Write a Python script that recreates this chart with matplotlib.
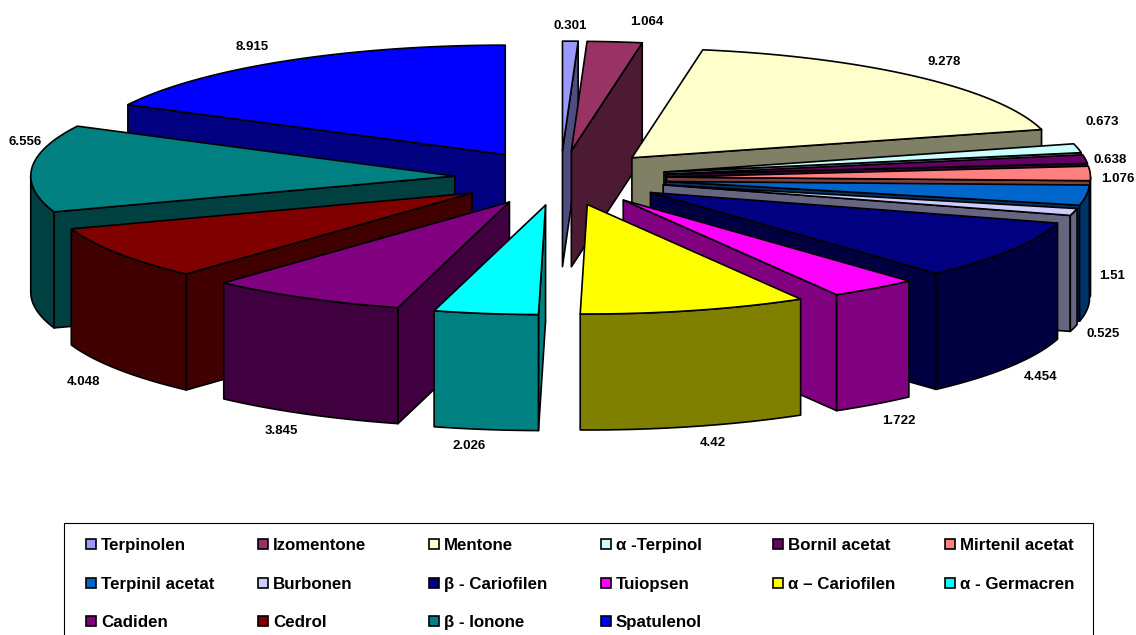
import numpy as np
import matplotlib as mpl
mpl.use('Agg')
import matplotlib.pyplot as plt
from matplotlib.colors import to_rgb
from matplotlib.patches import Polygon, Rectangle

plt.rcParams['font.family'] = ['Liberation Sans', 'DejaVu Sans']

names = ['Terpinolen', 'Izomentone', 'Mentone', 'α -Terpinol', 'Bornil acetat', 'Mirtenil acetat',
         'Terpinil acetat', 'Burbonen', 'β - Cariofilen', 'Tuiopsen', 'α – Cariofilen', 'α - Germacren',
         'Cadiden', 'Cedrol', 'β - Ionone', 'Spatulenol']
values = [0.301, 1.064, 9.278, 0.673, 0.638, 1.076, 1.51, 0.525,
          4.454, 1.722, 4.42, 2.026, 3.845, 4.048, 6.556, 8.915]
value_labels = ['0.301', '1.064', '9.278', '0.673', '0.638', '1.076', '1.51', '0.525',
                '4.454', '1.722', '4.42', '2.026', '3.845', '4.048', '6.556', '8.915']
colors = ['#9999FF', '#993366', '#FFFFCC', '#CCFFFF', '#660066', '#FF8080', '#0066CC', '#CCCCFF',
          '#000080', '#FF00FF', '#FFFF00', '#00FFFF', '#800080', '#800000', '#008080', '#0000FF']

# label anchors, pixels
label_xy = [(570, 26), (647, 22), (944, 62), (1102, 122), (1110, 160), (1118, 179), (1112, 276), (1103, 334),
            (1041, 377), (899, 421), (713, 443), (469, 446), (281, 431), (83, 382), (25, 142), (252, 47)]

# pie geometry, pixels
CX, CY = 560.5, 178
RX, RY = 424, 109.5
DEPTH = 116
EXPLODE = 0.25
LW = 1.2


def ring(theta):
    # point on the tilted ellipse, clockwise from 12 o'clock
    t = np.radians(theta)
    return np.column_stack([RX * np.sin(t), -RY * np.cos(t)])


def add_face(ax, pts, color):
    ax.add_patch(Polygon(pts, closed=True, facecolor=color, edgecolor='black', linewidth=LW, joinstyle='round'))


def draw_wedge(ax, start, end, color):
    mid = (start + end) / 2
    apex = np.array([CX, CY]) + EXPLODE * ring(np.array([mid]))[0]
    shade = tuple(c * 0.5 for c in to_rgb(color))
    down = np.array([0, DEPTH])

    thetas = np.linspace(start, end, max(int(end - start) * 2, 3))
    rim = apex + ring(thetas)

    # cut faces, only the ones turned towards the viewer
    if 180 < start < 360:
        add_face(ax, [apex, rim[0], rim[0] + down, apex + down], shade)
    if 0 < end < 180:
        add_face(ax, [apex, rim[-1], rim[-1] + down, apex + down], shade)

    # outer wall on the front half of the ellipse
    lo, hi = max(start, 90), min(end, 270)
    if lo < hi:
        front = apex + ring(np.linspace(lo, hi, max(int(hi - lo) * 2, 3)))
        add_face(ax, np.vstack([front, (front + down)[::-1]]), shade)

    add_face(ax, np.vstack([[apex], rim]), color)


fig = plt.figure(figsize=(11.36, 6.35), dpi=100)
ax = fig.add_axes([0, 0, 1, 1])
ax.set_xlim(0, 1136)
ax.set_ylim(635, 0)
ax.axis('off')

edges = np.concatenate([[0], np.cumsum(values)]) / np.sum(values) * 360
wedges = list(zip(edges[:-1], edges[1:], colors))
# back of the pie first, wedges nearest 6 o'clock last
wedges.sort(key=lambda w: -abs((w[0] + w[1]) / 2 - 180))
for start, end, color in wedges:
    draw_wedge(ax, start, end, color)

for (x, y), label in zip(label_xy, value_labels):
    ax.text(x, y, label, ha='center', va='center', fontsize=9.5, fontweight='bold', color='black')

# legend box runs off the bottom edge
ax.add_patch(Rectangle((64, 523), 1029, 130, facecolor='white', edgecolor='black', linewidth=0.8))
col_x = [86, 258, 429, 601, 773, 945]
row_y = [544, 583, 621]
for i, (name, color) in enumerate(zip(names, colors)):
    x = col_x[i % 6]
    y = row_y[i // 6]
    ax.add_patch(Rectangle((x, y - 5), 10, 10, facecolor=color, edgecolor='black', linewidth=1.2))
    ax.text(x + 15, y + 6.2, name, ha='left', va='baseline', fontsize=12.2, fontweight='bold', color='black')

fig.savefig('out.png', dpi=100)
plt.close(fig)
